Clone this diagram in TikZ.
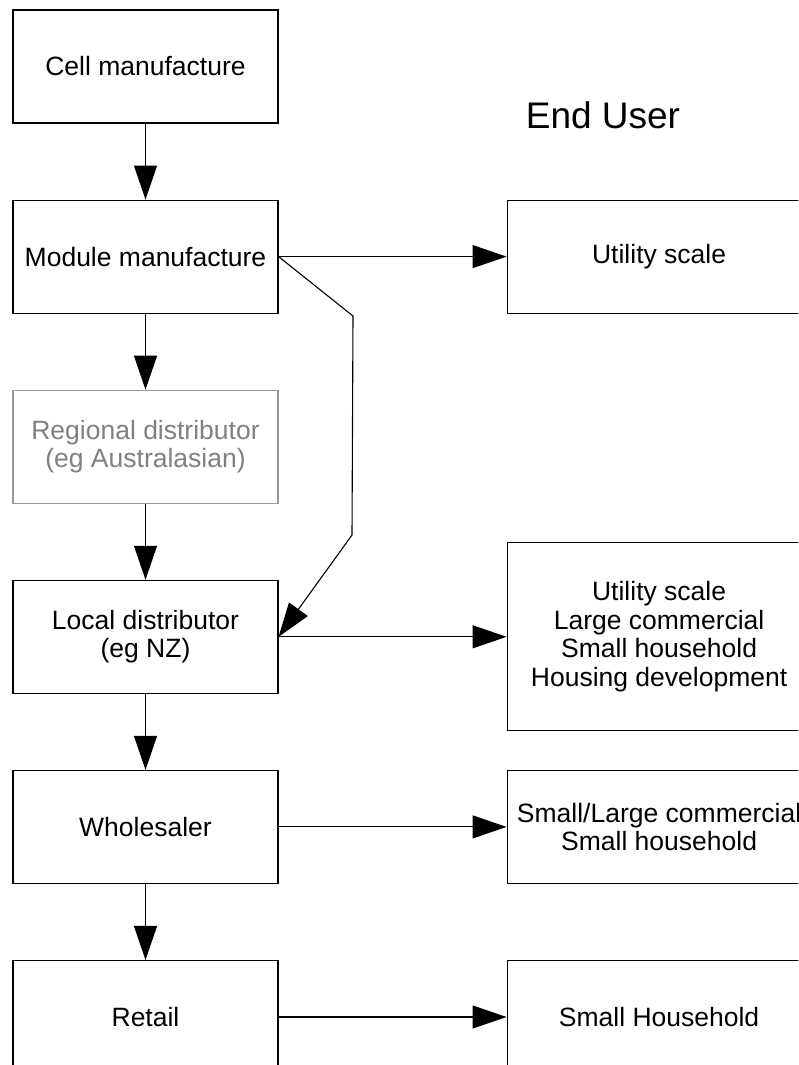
\documentclass[tikz,border=0pt]{standalone}
\usepackage{fontspec}
\setmainfont{Liberation Sans}
\usetikzlibrary{arrows.meta,positioning}

\begin{document}
\begin{tikzpicture}[
    x=1pt, y=-1pt,
    node distance=76pt and 228pt,
    stage/.style={draw, line width=1.1pt, align=center, minimum width=265pt, minimum height=113pt, font=\fontsize{26.5}{28.5}\selectfont},
    faint/.style={stage, draw=black!40, text=black!50},
    enduse/.style={stage, minimum width=304pt},
    flow/.style={-{Triangle[length=34pt, width=23pt]}, line width=1.1pt}
]
\clip (0,0) rectangle (798,1065);
\node[stage] (cell) at (145.5,66.5) {Cell manufacture};
\node[stage, below=of cell] (module) {Module manufacture};
\node[faint, below=of module] (regional) {Regional distributor\\(eg Australasian)};
\node[stage, below=of regional] (local) {Local distributor\\(eg NZ)};
\node[stage, below=of local] (wholesale) {Wholesaler};
\node[stage, below=of wholesale] (retail) {Retail};
\node[enduse, right=of module] (utility) {Utility scale};
\node[enduse, right=of local, minimum height=188pt] (mixed) {Utility scale\\Large commercial\\Small household\\Housing development};
\node[enduse, right=of wholesale] (commercial) {Small/Large commercial\\Small household};
\node[enduse, right=of retail] (household) {Small Household};
\node[font=\fontsize{37}{40}\selectfont] (enduser) at (603,115) {End User};
\draw[flow] (cell) -- (module);
\draw[flow] (module) -- (regional);
\draw[flow] (regional) -- (local);
\draw[flow] (local) -- (wholesale);
\draw[flow] (wholesale) -- (retail);
\draw[flow] (module) -- (utility);
\draw[flow] (local) -- (mixed);
\draw[flow] (wholesale) -- (commercial);
\draw[flow] (retail) -- (household);
\draw[flow] (module.east) -- (353,316) -- (352,535) -- (local.east);
\end{tikzpicture}
\end{document}
